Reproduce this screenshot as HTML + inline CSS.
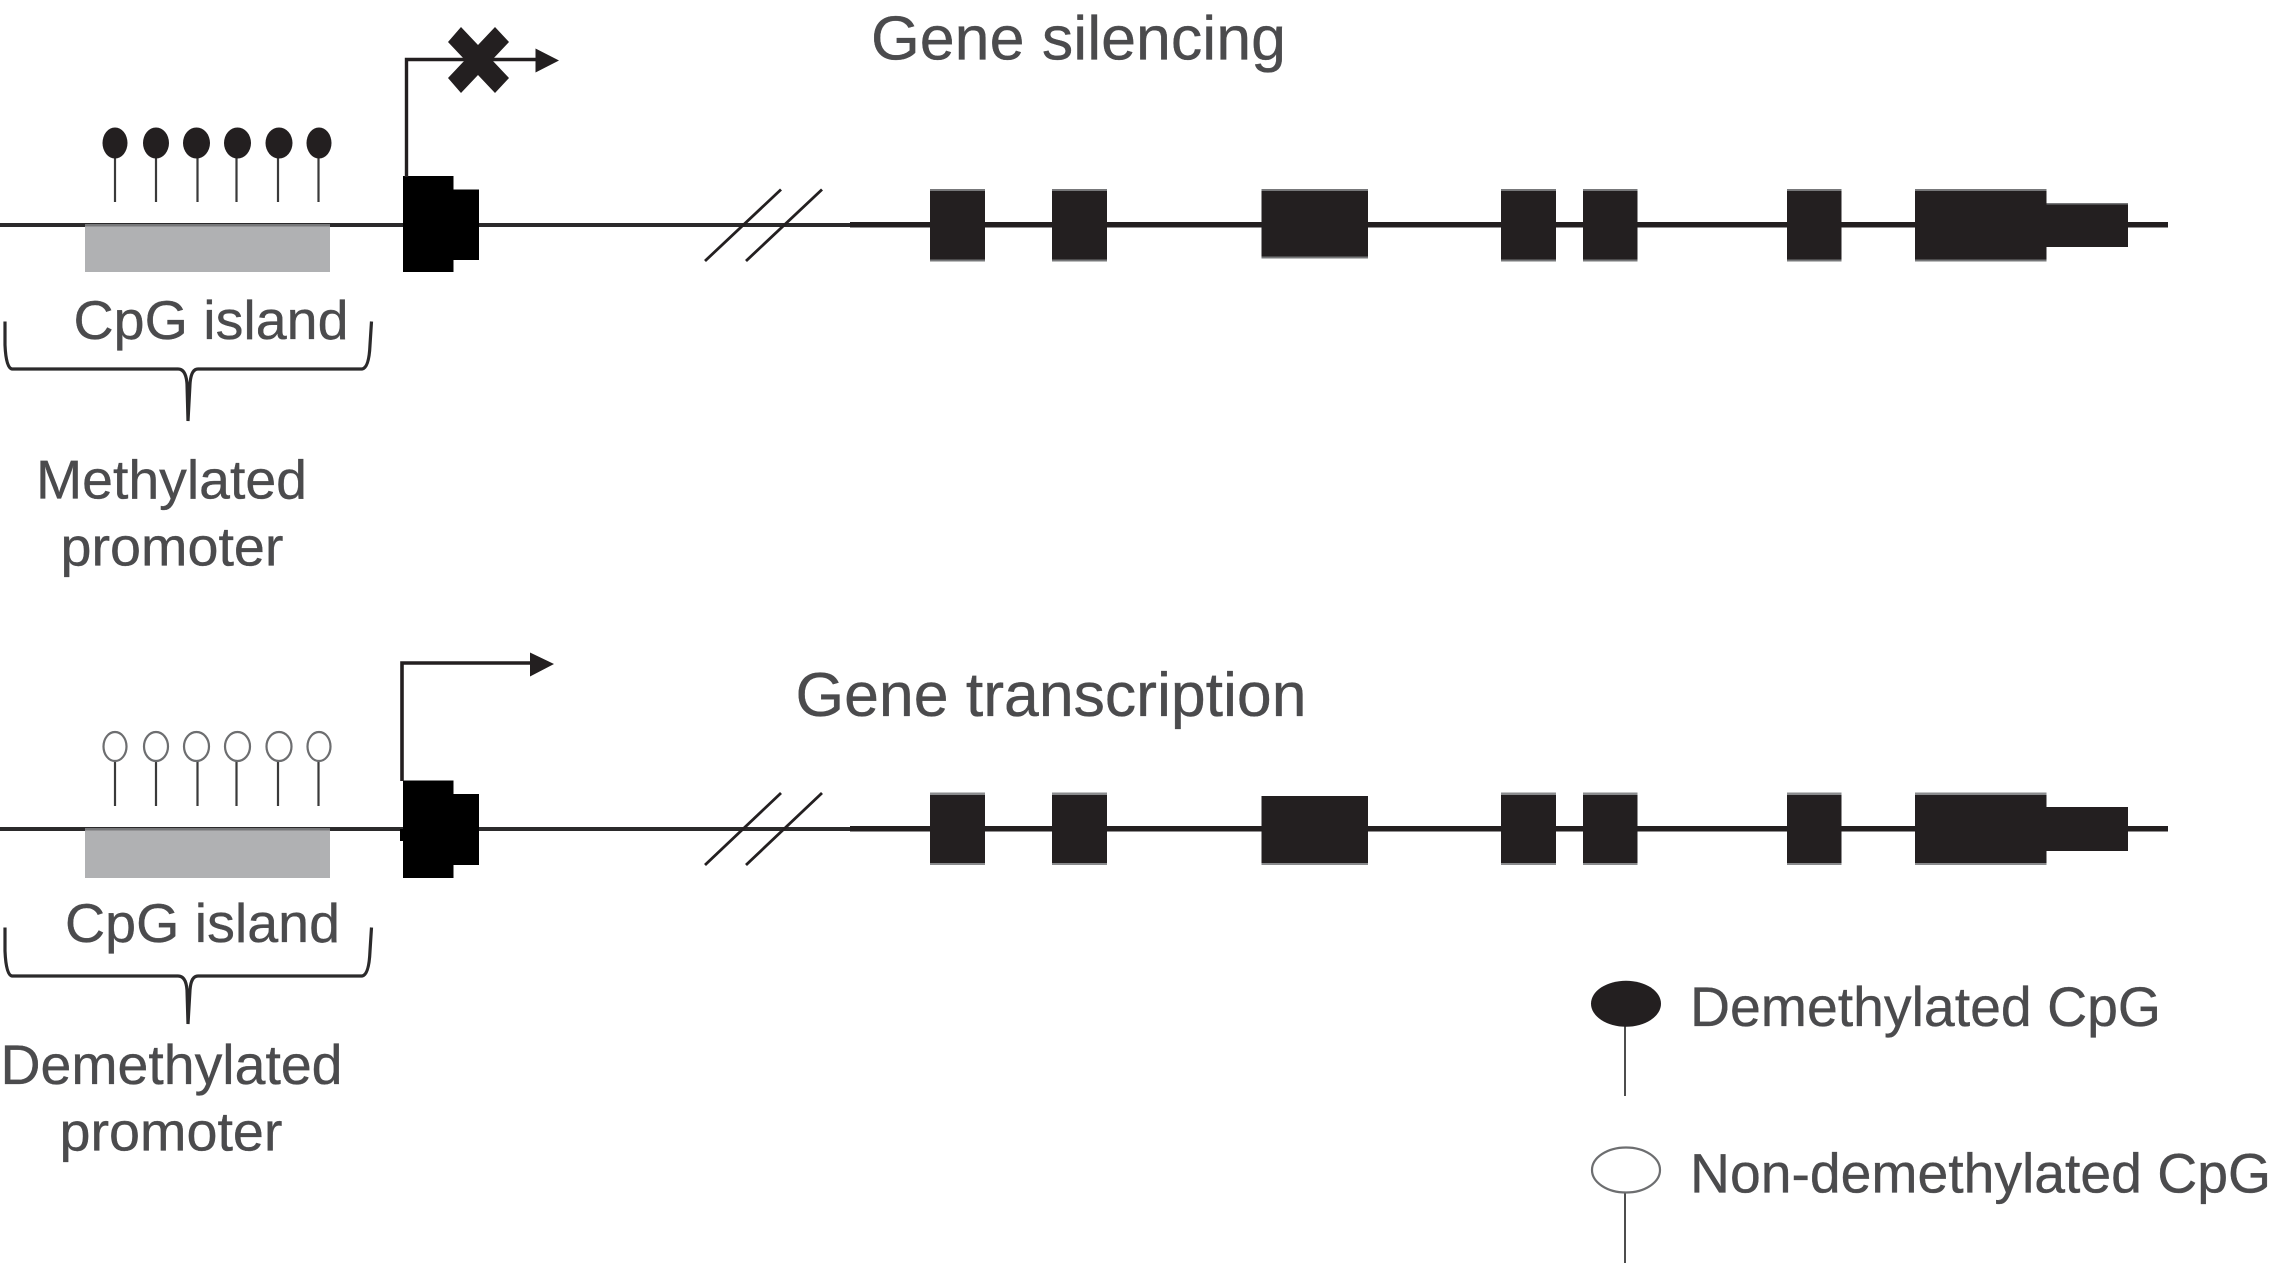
<!DOCTYPE html>
<html>
<head>
<meta charset="utf-8">
<title>Gene silencing and transcription</title>
<style>
html,body{margin:0;padding:0;background:#fff;}
svg{display:block;}
text{font-family:"Liberation Sans",Arial,sans-serif;fill:#4b4b4d;stroke:#4b4b4d;stroke-width:.35px;}
</style>
</head>
<body>
<svg width="2274" height="1263" viewBox="0 0 2274 1263" xmlns="http://www.w3.org/2000/svg">
<rect width="2274" height="1263" fill="#fff"/>

<!-- TOP ROW -->
<g>
  <rect x="0" y="223" width="850" height="4" fill="#2b2a2b"/>
  <rect x="850" y="222" width="1318" height="5.5" fill="#231f20"/>
  <rect x="85" y="225" width="245" height="47" fill="#b0b1b3"/>
  <rect x="85" y="224" width="245" height="2.5" fill="#77787a"/>
  <!-- stems -->
  <g stroke="#3a3a3a" stroke-width="2.2">
    <line x1="115" y1="157" x2="115" y2="202"/>
    <line x1="156" y1="157" x2="156" y2="202"/>
    <line x1="197.5" y1="157" x2="197.5" y2="202"/>
    <line x1="236.5" y1="157" x2="236.5" y2="202"/>
    <line x1="278" y1="157" x2="278" y2="202"/>
    <line x1="318.5" y1="157" x2="318.5" y2="202"/>
  </g>
  <g fill="#231f20">
    <ellipse cx="115" cy="143" rx="12.5" ry="15.5"/>
    <ellipse cx="156" cy="143" rx="13" ry="15.5"/>
    <ellipse cx="196.5" cy="143" rx="13.5" ry="15.5"/>
    <ellipse cx="237.5" cy="143" rx="13.5" ry="15.5"/>
    <ellipse cx="279" cy="143" rx="13.5" ry="15.5"/>
    <ellipse cx="319" cy="143" rx="12.5" ry="15.5"/>
  </g>
  <!-- promoter exon -->
  <path d="M403 176H453.5V189.5H479V260H453.5V272H403Z" fill="#000"/>
  <!-- TSS arrow -->
  <path d="M406.5 177V59.5H537" fill="none" stroke="#231f20" stroke-width="3.4"/>
  <path d="M535.5 48.5L559 60.5L535.5 72.5Z" fill="#231f20"/>
  <!-- X -->
  <path d="M461 27L478 45L495 27L509 42L492 60L509 78L495 93L478 75L461 93L448 78L465 60L448 42Z" fill="#231f20"/>
  <!-- break -->
  <g stroke="#231f20" stroke-width="2.8">
    <line x1="705" y1="261" x2="781" y2="189.5"/>
    <line x1="746" y1="261" x2="822" y2="189.5"/>
  </g>
  <!-- exons -->
  <g fill="#231f20">
    <rect x="930" y="189" width="55" height="72"/>
    <rect x="1052" y="189" width="55" height="72"/>
    <rect x="1261.5" y="189" width="106.5" height="69"/>
    <rect x="1501" y="189" width="55" height="72"/>
    <rect x="1583" y="189" width="54.5" height="72"/>
    <rect x="1787" y="189" width="54.5" height="72"/>
    <rect x="1915" y="189" width="131.5" height="72"/>
    <rect x="2046.5" y="203" width="81.5" height="44"/>
  </g>
  <g fill="#77787a">
    <rect x="930" y="189" width="55" height="2"/><rect x="930" y="259.5" width="55" height="2"/>
    <rect x="1052" y="189" width="55" height="2"/><rect x="1052" y="259.5" width="55" height="2"/>
    <rect x="1261.5" y="189" width="106.5" height="2"/><rect x="1261.5" y="256.5" width="106.5" height="2"/>
    <rect x="1501" y="189" width="55" height="2"/><rect x="1501" y="259.5" width="55" height="2"/>
    <rect x="1583" y="189" width="54.5" height="2"/><rect x="1583" y="259.5" width="54.5" height="2"/>
    <rect x="1787" y="189" width="54.5" height="2"/><rect x="1787" y="259.5" width="54.5" height="2"/>
    <rect x="1915" y="189" width="131.5" height="2"/><rect x="1915" y="259.5" width="131.5" height="2"/>
    <rect x="2046.5" y="203" width="81.5" height="1.5"/>
  </g>
  <!-- brace -->
  <path d="M5 321.5V345Q6 368 12 369H178Q186 369 187 384L188 421L190 384Q191 369 198 369H362Q369 368 370 345L371.5 321.5" fill="none" stroke="#2b2a2b" stroke-width="3.2"/>
  <text x="73.5" y="339" font-size="55" textLength="275" lengthAdjust="spacingAndGlyphs">CpG island</text>
  <text x="36" y="498.5" font-size="55" textLength="271" lengthAdjust="spacingAndGlyphs">Methylated</text>
  <text x="60.5" y="565.5" font-size="55" textLength="223" lengthAdjust="spacingAndGlyphs">promoter</text>
  <text x="871" y="59.5" font-size="62" textLength="415" lengthAdjust="spacingAndGlyphs">Gene silencing</text>
</g>

<!-- BOTTOM ROW -->
<g>
  <rect x="0" y="827" width="850" height="4" fill="#2b2a2b"/>
  <rect x="850" y="826" width="1318" height="5.5" fill="#231f20"/>
  <rect x="85" y="829" width="245" height="49" fill="#b0b1b3"/>
  <rect x="85" y="828" width="245" height="2.5" fill="#77787a"/>
  <g stroke="#3a3a3a" stroke-width="2.2">
    <line x1="115" y1="761" x2="115" y2="806"/>
    <line x1="156" y1="761" x2="156" y2="806"/>
    <line x1="197.5" y1="761" x2="197.5" y2="806"/>
    <line x1="236.5" y1="761" x2="236.5" y2="806"/>
    <line x1="278" y1="761" x2="278" y2="806"/>
    <line x1="318.5" y1="761" x2="318.5" y2="806"/>
  </g>
  <g fill="#fff" stroke="#6d6e70" stroke-width="2.2">
    <ellipse cx="115" cy="746.5" rx="11.5" ry="14.5"/>
    <ellipse cx="156" cy="746.5" rx="12" ry="14.5"/>
    <ellipse cx="196.5" cy="746.5" rx="12.5" ry="14.5"/>
    <ellipse cx="237.5" cy="746.5" rx="12.5" ry="14.5"/>
    <ellipse cx="279" cy="746.5" rx="12.5" ry="14.5"/>
    <ellipse cx="319" cy="746.5" rx="11.5" ry="14.5"/>
  </g>
  <path d="M403 780.5H453.5V794H479V865H453.5V878H403V841H400V829H403Z" fill="#000"/>
  <path d="M402 781V663H533" fill="none" stroke="#231f20" stroke-width="3.6"/>
  <path d="M530 652.5L554 664L530 676.5Z" fill="#231f20"/>
  <g stroke="#231f20" stroke-width="2.8">
    <line x1="705" y1="865" x2="781" y2="793"/>
    <line x1="746" y1="865" x2="822" y2="793"/>
  </g>
  <g fill="#231f20">
    <rect x="930" y="793" width="55" height="72"/>
    <rect x="1052" y="793" width="55" height="72"/>
    <rect x="1261.5" y="796" width="106.5" height="68.5"/>
    <rect x="1501" y="793" width="55" height="72"/>
    <rect x="1583" y="793" width="54.5" height="72"/>
    <rect x="1787" y="793" width="54.5" height="72"/>
    <rect x="1915" y="793" width="131.5" height="72"/>
    <rect x="2046.5" y="807" width="81.5" height="44"/>
  </g>
  <g fill="#8a8b8d">
    <rect x="930" y="792.5" width="55" height="2.5"/><rect x="930" y="863" width="55" height="2"/>
    <rect x="1052" y="792.5" width="55" height="2.5"/><rect x="1052" y="863" width="55" height="2"/>
    <rect x="1261.5" y="863" width="106.5" height="2"/>
    <rect x="1501" y="792.5" width="55" height="2.5"/><rect x="1501" y="863" width="55" height="2"/>
    <rect x="1583" y="792.5" width="54.5" height="2.5"/><rect x="1583" y="863" width="54.5" height="2"/>
    <rect x="1787" y="792.5" width="54.5" height="2.5"/><rect x="1787" y="863" width="54.5" height="2"/>
    <rect x="1915" y="792.5" width="131.5" height="2.5"/><rect x="1915" y="863" width="131.5" height="2"/>
  </g>
  <path d="M5 927.5V951Q6 975 12 976H178Q186 976 187 990L188 1024L190 990Q191 976 198 976H362Q369 975 370 951L371.5 927.5" fill="none" stroke="#2b2a2b" stroke-width="3.2"/>
  <text x="65" y="942" font-size="55" textLength="275" lengthAdjust="spacingAndGlyphs">CpG island</text>
  <text x="0.5" y="1084" font-size="56" textLength="342" lengthAdjust="spacingAndGlyphs">Demethylated</text>
  <text x="59.5" y="1150.5" font-size="55" textLength="223" lengthAdjust="spacingAndGlyphs">promoter</text>
  <text x="795.5" y="716" font-size="62" textLength="511" lengthAdjust="spacingAndGlyphs">Gene transcription</text>
</g>

<!-- LEGEND -->
<g>
  <line x1="1625" y1="1025" x2="1625" y2="1096" stroke="#3a3a3a" stroke-width="1.8"/>
  <ellipse cx="1626" cy="1003.7" rx="35" ry="23" fill="#231f20"/>
  <text x="1690" y="1026" font-size="56" textLength="471" lengthAdjust="spacingAndGlyphs">Demethylated CpG</text>
  <line x1="1625" y1="1192" x2="1625" y2="1263" stroke="#3a3a3a" stroke-width="1.8"/>
  <ellipse cx="1626" cy="1170" rx="34" ry="22.5" fill="#fff" stroke="#6d6e70" stroke-width="2.2"/>
  <text x="1690" y="1192.5" font-size="56" textLength="581" lengthAdjust="spacingAndGlyphs">Non-demethylated CpG</text>
</g>
</svg>
</body>
</html>
